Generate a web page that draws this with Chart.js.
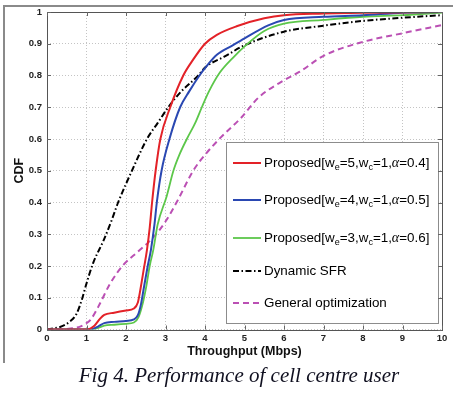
<!DOCTYPE html>
<html>
<head>
<meta charset="utf-8">
<script src="https://cdn.jsdelivr.net/npm/chart.js@4"></script>
<style>
  body { margin: 0; background: #fff; }
  #wrap { position: relative; width: 455px; height: 396px; }
  #frame { position: absolute; left: 3px; top: 5px; width: 450px; height: 358px;
           border-top: 2px solid #8a8a8a; border-left: 2px solid #8a8a8a; box-sizing: border-box; }
  #caption { position: absolute; left: 0; width: 478px; top: 363px; text-align: center;
             font: italic 21px "Liberation Serif", "DejaVu Serif", serif; color: #101020; }
</style>
</head>
<body>
<div id="wrap">
  <div id="frame"></div>
  <canvas id="cdfChart" width="455" height="396"></canvas>
  <div id="caption">Fig 4. Performance of cell centre user</div>
</div>
<script>
// Values (throughput in Mbps, CDF)
const redX = [0, 1.0, 1.2, 1.35, 1.45, 1.7, 2.0, 2.2, 2.3, 2.37, 2.45, 2.53, 2.6, 2.66, 2.75, 2.87, 3.12, 3.45, 3.7, 4.0, 4.3, 4.8, 5.5, 6.0, 7.0, 8.0, 10];
const redY = [0, 0, 0.012, 0.035, 0.046, 0.053, 0.06, 0.066, 0.085, 0.13, 0.19, 0.25, 0.32, 0.4, 0.5, 0.6, 0.7, 0.8, 0.85, 0.9, 0.928, 0.955, 0.98, 0.99, 0.995, 0.998, 1];

const blueX = [0, 1.1, 1.3, 1.45, 1.7, 2.0, 2.2, 2.3, 2.38, 2.45, 2.55, 2.63, 2.72, 2.78, 2.9, 3.1, 3.37, 3.6, 3.86, 4.0, 4.3, 4.7, 5.0, 5.6, 6.0, 7.0, 8.0, 9.0, 10];
const blueY = [0, 0, 0.01, 0.02, 0.024, 0.027, 0.032, 0.045, 0.08, 0.13, 0.2, 0.25, 0.33, 0.4, 0.5, 0.6, 0.7, 0.75, 0.8, 0.823, 0.865, 0.895, 0.917, 0.958, 0.975, 0.985, 0.99, 0.998, 1];

const greenX = [0, 1.15, 1.3, 1.45, 1.7, 2.0, 2.2, 2.32, 2.42, 2.52, 2.6, 2.69, 2.8, 3.03, 3.2, 3.35, 3.54, 3.75, 3.92, 4.1, 4.38, 4.7, 5.06, 5.5, 6.0, 7.0, 8.0, 9.0, 10];
const greenY = [0, 0, 0.005, 0.012, 0.015, 0.018, 0.022, 0.04, 0.08, 0.14, 0.2, 0.25, 0.33, 0.42, 0.5, 0.55, 0.6, 0.65, 0.7, 0.75, 0.81, 0.855, 0.898, 0.94, 0.963, 0.975, 0.985, 0.99, 0.998];

const sfrX = [0, 0.08, 0.33, 0.58, 0.75, 0.88, 1.0, 1.17, 1.43, 1.64, 1.8, 2.15, 2.53, 2.8, 3.07, 3.4, 3.83, 4.0, 4.5, 5.0, 6.0, 7.0, 8.0, 9.0, 10];
const sfrY = [0, 0.002, 0.008, 0.025, 0.05, 0.093, 0.145, 0.21, 0.28, 0.345, 0.4, 0.5, 0.6, 0.65, 0.7, 0.75, 0.8, 0.825, 0.86, 0.895, 0.938, 0.957, 0.972, 0.982, 0.99];

const optX = [0, 0.3, 0.6, 0.84, 1.0, 1.1, 1.3, 1.6, 1.93, 2.3, 2.69, 3.0, 3.3, 3.7, 4.0, 4.4, 4.9, 5.35, 6.0, 6.4, 7.0, 8.0, 9.0, 10];
const optY = [0, 0, 0.003, 0.009, 0.02, 0.03, 0.072, 0.145, 0.203, 0.245, 0.29, 0.34, 0.405, 0.5, 0.55, 0.605, 0.665, 0.73, 0.785, 0.812, 0.862, 0.906, 0.933, 0.959];

const xTicks = [0, 1, 2, 3, 4, 5, 6, 7, 8, 9, 10];
const yTicks = [0, 0.1, 0.2, 0.3, 0.4, 0.5, 0.6, 0.7, 0.8, 0.9, 1];

// legend entries: [main, sub1, mid, sub2, tail, alpha, end]
const legendLabels = [
  ['Proposed[w', 'e', '=5,w', 'c', '=1,', '\u03B1', '=0.4]'],
  ['Proposed[w', 'e', '=4,w', 'c', '=1,', '\u03B1', '=0.5]'],
  ['Proposed[w', 'e', '=3,w', 'c', '=1,', '\u03B1', '=0.6]'],
  ['Dynamic SFR'],
  ['General optimization']
];

const colors = ['#e32228', '#2a48b2', '#5cc74a', '#000000', '#bb50b4'];
const dashes = [[], [], [], [6, 2.5, 1.5, 2.5], [6, 4]];
const widths = [2, 2, 1.8, 2, 2];

function pairs(xs, ys) {
  return xs.map((x, i) => ({ x: x, y: ys[i] }));
}

const series = [pairs(redX, redY), pairs(blueX, blueY), pairs(greenX, greenY), pairs(sfrX, sfrY), pairs(optX, optY)];

const datasets = series.map((pts, i) => ({
  label: legendLabels[i].join(''),
  data: pts,
  borderColor: colors[i],
  borderWidth: widths[i],
  borderDash: dashes[i],
  pointRadius: 0,
  fill: false,
  tension: 0.4,
  cubicInterpolationMode: 'monotone'
}));

// frame, inward ticks, legend and axis titles
const decor = {
  id: 'decor',
  afterDatasetsDraw(chart) {
    const ctx = chart.ctx;
    const a = chart.chartArea;
    const xs = chart.scales.x, ys = chart.scales.y;
    ctx.save();

    // legend box
    const bx = 226.5, by = 142.5, bw = 212, bh = 181;
    ctx.fillStyle = '#fff';
    ctx.fillRect(bx, by, bw, bh);
    ctx.strokeStyle = '#8c8c8c';
    ctx.lineWidth = 1;
    ctx.strokeRect(bx, by, bw, bh);

    const rowY = [163, 200, 238, 271, 303];
    legendLabels.forEach((parts, i) => {
      const y = rowY[i];
      ctx.strokeStyle = colors[i];
      ctx.lineWidth = widths[i];
      ctx.setLineDash(dashes[i]);
      ctx.beginPath();
      ctx.moveTo(233, y);
      ctx.lineTo(261, y);
      ctx.stroke();
      ctx.setLineDash([]);

      ctx.fillStyle = '#000';
      ctx.textBaseline = 'middle';
      ctx.textAlign = 'left';
      let x = 264;
      const main = '13.4px "Liberation Sans", Arial, sans-serif';
      const sub = '9px "Liberation Sans", Arial, sans-serif';
      const greek = 'italic 14px "Liberation Serif", serif';
      if (parts.length === 1) {
        ctx.font = main;
        ctx.fillText(parts[0], x, y);
      } else {
        const fonts = [main, sub, main, sub, main, greek, main];
        parts.forEach((p, k) => {
          ctx.font = fonts[k];
          const dy = fonts[k] === sub ? 5 : 0;
          ctx.fillText(p, x, y + dy);
          x += ctx.measureText(p).width;
        });
      }
    });

    // plot frame
    ctx.strokeStyle = '#555';
    ctx.lineWidth = 1;
    ctx.strokeRect(Math.round(a.left) + 0.5, Math.round(a.top) + 0.5,
      Math.round(a.right - a.left), Math.round(a.bottom - a.top));

    // inward tick marks on all four sides
    ctx.strokeStyle = '#666';
    ctx.beginPath();
    xTicks.forEach(v => {
      const px = Math.round(xs.getPixelForValue(v)) + 0.5;
      ctx.moveTo(px, a.bottom); ctx.lineTo(px, a.bottom - 4);
      ctx.moveTo(px, a.top); ctx.lineTo(px, a.top + 4);
    });
    yTicks.forEach(v => {
      const py = Math.round(ys.getPixelForValue(v)) + 0.5;
      ctx.moveTo(a.left, py); ctx.lineTo(a.left + 4, py);
      ctx.moveTo(a.right, py); ctx.lineTo(a.right - 4, py);
    });
    ctx.stroke();

    // axis titles
    ctx.fillStyle = '#111';
    ctx.font = 'bold 12.5px "Liberation Sans", Arial, sans-serif';
    ctx.textAlign = 'center';
    ctx.textBaseline = 'middle';
    ctx.fillText('Throughput (Mbps)', (a.left + a.right) / 2, 352);
    ctx.translate(20, (a.top + a.bottom) / 2);
    ctx.rotate(-Math.PI / 2);
    ctx.fillText('CDF', 0, 0);
    ctx.restore();
  }
};

new Chart(document.getElementById('cdfChart').getContext('2d'), {
  type: 'line',
  data: { datasets: datasets },
  options: {
    responsive: false,
    animation: false,
    layout: { padding: { top: 12, right: 13, left: 0, bottom: 0 } },
    plugins: { legend: { display: false }, tooltip: { enabled: false } },
    scales: {
      x: {
        type: 'linear',
        min: 0, max: 10,
        afterFit: s => { s.height = 66.5; },
        afterBuildTicks: s => { s.ticks = xTicks.map(v => ({ value: v })); },
        grid: { color: '#c4c4c4', lineWidth: 1, drawTicks: false },
        border: { display: false, dash: [1, 2] },
        ticks: {
          padding: 3,
          color: '#222',
          font: { family: '"Liberation Sans", Arial, sans-serif', size: 9.5, weight: 'bold' },
          callback: v => String(v)
        }
      },
      y: {
        type: 'linear',
        min: 0, max: 1,
        afterFit: s => { s.width = 47; },
        afterBuildTicks: s => { s.ticks = yTicks.map(v => ({ value: v })); },
        grid: { color: '#c4c4c4', lineWidth: 1, drawTicks: false },
        border: { display: false, dash: [1, 2] },
        ticks: {
          padding: 5,
          color: '#222',
          font: { family: '"Liberation Sans", Arial, sans-serif', size: 9.5, weight: 'bold' },
          callback: v => String(Math.round(v * 10) / 10)
        }
      }
    }
  },
  plugins: [decor]
});
</script>
</body>
</html>
